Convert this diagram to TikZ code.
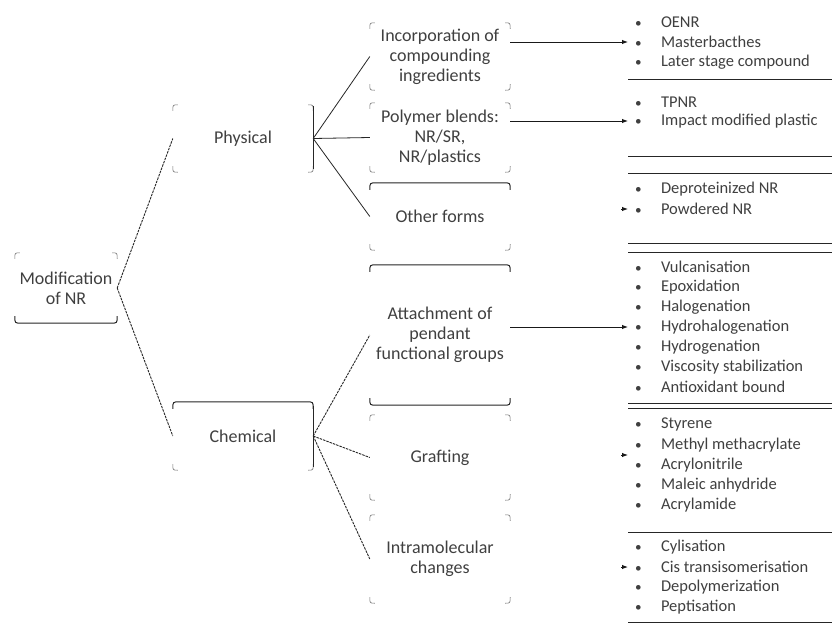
\documentclass[tikz,border=0pt]{standalone}
\usepackage{fontspec}
\setmainfont{Carlito}
\usetikzlibrary{calc,arrows.meta}
\newcommand\bxtl[1]{\draw[tick] ($(#1.north west)+(0,6)$) .. controls (#1.north west) .. ($(#1.north west)+(5,0)$);}
\newcommand\bxtr[1]{\draw[tick] ($(#1.north east)+(-5,0)$) .. controls (#1.north east) .. ($(#1.north east)+(0,6)$);}
\newcommand\bxbl[1]{\draw[tick] ($(#1.south west)+(0,-6)$) .. controls (#1.south west) .. ($(#1.south west)+(5,0)$);}
\newcommand\bxbr[1]{\draw[tick] ($(#1.south east)+(-5,0)$) .. controls (#1.south east) .. ($(#1.south east)+(0,-6)$);}
\newcommand\bxtop[1]{\draw[ln] ($(#1.north west)+(0,7)$) .. controls (#1.north west) .. ($(#1.north west)+(7,0)$) -- ($(#1.north east)+(-7,0)$) .. controls (#1.north east) .. ($(#1.north east)+(0,7)$);}
\newcommand\bxbot[1]{\draw[ln] ($(#1.south west)+(0,-7)$) .. controls (#1.south west) .. ($(#1.south west)+(7,0)$) -- ($(#1.south east)+(-7,0)$) .. controls (#1.south east) .. ($(#1.south east)+(0,-7)$);}
\begin{document}
\begin{tikzpicture}[x=1pt,y=-1pt,
  ln/.style={line width=1pt, draw=black!85},
  tick/.style={line width=0.6pt, draw=black!55},
  conn/.style={line width=0.8pt, draw=black!85},
  dconn/.style={conn, line width=0.9pt, dash pattern=on 2.5pt off 1pt},
  arr/.style={line width=1pt, draw=black!90, -{Latex[length=6pt,width=4.5pt]}},
  box/.style={inner sep=0pt, align=center, font=\fontsize{18}{20}\selectfont, text=black!75},
  item/.style={anchor=west, inner sep=0pt, outer xsep=7pt, font=\fontsize{16.5}{20}\selectfont, text=black!75},
]
\useasboundingbox (0,0) rectangle (832,624);
\fill[white] (0,0) rectangle (832,624);

% level 0 and 1
\node[box, minimum width=102, minimum height=70] (root) at (66,288) {Modification\\of NR};
\node[box, minimum width=140, minimum height=67] (phys) at (243,138.5) {Physical};
\node[box, minimum width=140, minimum height=68] (chem) at (243,436) {Chemical};

% level 2
\node[box, minimum width=140, minimum height=67] (inc) at (440,56.5) {Incorporation of\\compounding\\ingredients};
\node[box, minimum width=140, minimum height=69] (poly) at (440,137.5) {Polymer blends:\\NR/SR,\\NR/plastics};
\node[box, minimum width=140, minimum height=67] (other) at (440,216.5) {Other forms};
\node[box, minimum width=140, minimum height=140] (att) at (440,335) {Attachment of\\pendant\\functional groups};
\node[box, minimum width=140, minimum height=85] (graft) at (440,457.5) {Grafting};
\node[box, minimum width=140, minimum height=88] (intra) at (440,559) {Intramolecular\\changes};

% box outlines (as they appear)
\bxtl{root}\bxtr{root}\bxbot{root}
\bxtl{phys}\bxtr{phys}\bxbl{phys}\bxbr{phys}
\draw[ln] ($(phys.north east)+(0,1)$) -- ($(phys.south east)+(0,-3)$);
\bxtop{chem}\bxbl{chem}\bxbr{chem}
\draw[ln] ($(chem.north east)+(0,4)$) -- ($(chem.south east)+(0,-3)$);
\bxtl{inc}\bxtr{inc}\bxbl{inc}\bxbr{inc}
\bxtl{poly}\bxtr{poly}\bxbl{poly}\bxbr{poly}
\bxtop{other}\bxbl{other}\bxbr{other}
\bxtop{att}\bxbot{att}
\bxtl{graft}\bxtr{graft}\bxbl{graft}\bxbr{graft}
\bxtl{intra}\bxtr{intra}\bxbl{intra}\bxbr{intra}

% connectors
\draw[dconn] (root.east) -- (phys.west);
\draw[dconn] (root.east) -- (chem.west);
\draw[conn] (phys.east) -- (inc.west);
\draw[conn] (phys.east) -- (poly.west);
\draw[conn] (phys.east) -- (other.west);
\draw[dconn] (chem.east) -- (att.west);
\draw[dconn] (chem.east) -- (graft.west);
\draw[dconn] (chem.east) -- (intra.west);

% right column lists
\newcommand\itm[1]{\makebox[26pt][l]{\scalebox{0.8}{\textbullet}}#1}
\node[item] (a1) at (628,22) {\itm{OENR}};
\node[item] (a2) at (628,42) {\itm{Masterbacthes}};
\node[item] (a3) at (628,62) {\itm{Later stage compound}};
\node[item] (b1) at (628,102) {\itm{TPNR}};
\node[item] (b2) at (628,121) {\itm{Impact modified plastic}};
\node[item] (c1) at (628,189) {\itm{Deproteinized NR}};
\node[item] (c2) at (628,209) {\itm{Powdered NR}};
\node[item] (d1) at (628,267) {\itm{Vulcanisation}};
\node[item] (d2) at (628,287) {\itm{Epoxidation}};
\node[item] (d3) at (628,307) {\itm{Halogenation}};
\node[item] (d4) at (628,327) {\itm{Hydrohalogenation}};
\node[item] (d5) at (628,347) {\itm{Hydrogenation}};
\node[item] (d6) at (628,367) {\itm{Viscosity stabilization}};
\node[item] (d7) at (628,387) {\itm{Antioxidant bound}};
\node[item] (e1) at (628,424) {\itm{Styrene}};
\node[item] (e2) at (628,445) {\itm{Methyl methacrylate}};
\node[item] (e3) at (628,465) {\itm{Acrylonitrile}};
\node[item] (e4) at (628,485) {\itm{Maleic anhydride}};
\node[item] (e5) at (628,505) {\itm{Acrylamide}};
\node[item] (f1) at (628,547) {\itm{Cylisation}};
\node[item] (f2) at (628,567) {\itm{Cis transisomerisation}};
\node[item] (f3) at (628,587) {\itm{Depolymerization}};
\node[item] (f4) at (628,607) {\itm{Peptisation}};

% list separators
\foreach \yy in {79,156,173,243,252,403,408,532,622}
  \draw[ln] (628,\yy) -- (832,\yy);

% arrows
\draw[arr] (inc.east |- a2.west) -- (a2.west);
\draw[arr] (poly.east |- b2.west) -- (b2.west);
\draw[arr] (att.east |- d4.west) -- (d4.west);
\draw[arr] ($(c2.west)+(-7,0)$) -- (c2.west);
\coordinate (gtip) at ($(e2.west)!0.5!(e3.west)$);
\draw[arr] ($(gtip)+(-7,0)$) -- (gtip);
\draw[arr] ($(f2.west)+(-7,0)$) -- (f2.west);
\end{tikzpicture}
\end{document}
